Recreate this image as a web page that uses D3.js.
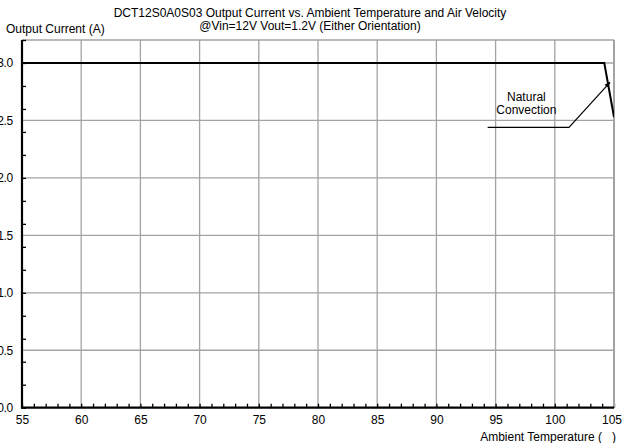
<!DOCTYPE html>
<html><head><meta charset="utf-8">
<script src="https://cdn.jsdelivr.net/npm/d3@7"></script>
<style>
html,body{margin:0;padding:0;background:#fff;}
text{font-family:"Liberation Sans",Arial,sans-serif;fill:#000;}
</style></head>
<body><svg id="chart" width="622" height="443"></svg>
<script>
// ---- data ----
const titleLines = ["DCT12S0A0S03 Output Current vs. Ambient Temperature and Air Velocity",
                    "@Vin=12V Vout=1.2V (Either Orientation)"];
const yAxisTitle = "Output Current (A)";
const xAxisTitle = "Ambient Temperature (   )";
const xTicks = [55, 60, 65, 70, 75, 80, 85, 90, 95, 100, 105];
const yTicks = [0.0, 0.5, 1.0, 1.5, 2.0, 2.5, 3.0];
const yTickLabels = ["0.0", "0.5", "1.0", "1.5", "2.0", "2.5", "3.0"];
const xMinorTicks = d3.range(55, 105.01, 1);
const yMinorTicks = d3.range(0, 3.21, 0.2);
const temps = [55, 104.18, 105];
const currents = [3.0, 3.0, 2.53];
const seriesName = ["Natural", "Convection"];
const labelX = [97.6, 97.6];
const labelY = [2.668, 2.555];
const calloutX = [94.33, 101.2, 104.66];
const calloutY = [2.44, 2.44, 2.832];

// ---- drawing ----
const svg = d3.select("#chart");
const L = 22, R = 614, T = 40, B = 407.7;
const x = d3.scaleLinear().domain([55, 105]).range([L, R]);
const y = d3.scaleLinear().domain([0, 3.2]).range([B, T]);
const grid = "#a3a3a3";
const FS = 12;

svg.append("defs").append("marker")
  .attr("id", "arr").attr("viewBox", "0 0 10 10").attr("refX", 9).attr("refY", 5)
  .attr("markerWidth", 5).attr("markerHeight", 5).attr("orient", "auto")
  .append("path").attr("d", "M0,1 L10,5 L0,9 z").attr("fill", "#000");

// gridlines
svg.append("g").selectAll("line").data(xTicks.slice(1)).join("line")
  .attr("x1", d => x(d)).attr("x2", d => x(d)).attr("y1", y(3.2)).attr("y2", y(0))
  .attr("stroke", grid).attr("stroke-width", 1.3);
svg.append("g").selectAll("line").data(yTicks.slice(1).concat([3.2])).join("line")
  .attr("x1", x(55)).attr("x2", x(105)).attr("y1", d => y(d)).attr("y2", d => y(d))
  .attr("stroke", grid).attr("stroke-width", 1.3);

// axes
const xAxis = d3.axisBottom(x).tickValues(xMinorTicks).tickSize(-4).tickFormat("");
const gx = svg.append("g").attr("transform", `translate(0,${B})`).call(xAxis);
gx.select(".domain").remove();
gx.selectAll(".tick line").attr("stroke", "#000").attr("stroke-width", 1.3);
const xLab = d3.axisBottom(x).tickValues(xTicks).tickSize(0).tickPadding(8).tickFormat(d3.format("d"));
const gxl = svg.append("g").attr("transform", `translate(0,${B})`).call(xLab);
gxl.select(".domain").remove();
gxl.selectAll("text").attr("font-size", FS).attr("font-family", "Liberation Sans, Arial, sans-serif")
  .attr("dx", d => d === 105 ? -2.5 : 0);

const yAxis = d3.axisLeft(y).tickValues(yMinorTicks).tickSize(-4).tickFormat("");
const gy = svg.append("g").attr("transform", `translate(${L},0)`).call(yAxis);
gy.select(".domain").remove();
gy.selectAll(".tick line").attr("stroke", "#000").attr("stroke-width", 1.3);
const yLab = d3.axisLeft(y).tickValues(yTicks).tickSize(0).tickPadding(9)
  .tickFormat((d, i) => yTickLabels[i]);
const gyl = svg.append("g").attr("transform", `translate(${L},0)`).call(yLab);
gyl.select(".domain").remove();
gyl.selectAll("text").attr("font-size", FS).attr("font-family", "Liberation Sans, Arial, sans-serif").attr("letter-spacing", -0.3);

// right border
svg.append("line").attr("x1", x(105)).attr("x2", x(105)).attr("y1", y(3.2)).attr("y2", y(0))
  .attr("stroke", grid).attr("stroke-width", 2);
// axis lines
svg.append("line").attr("x1", x(55)).attr("x2", x(55)).attr("y1", y(3.2)).attr("y2", y(0) + 1)
  .attr("stroke", "#000").attr("stroke-width", 2.2);
svg.append("line").attr("x1", x(55) - 1).attr("x2", x(105)).attr("y1", y(0)).attr("y2", y(0))
  .attr("stroke", "#000").attr("stroke-width", 2.2);

// data line
svg.append("clipPath").attr("id", "clip").append("rect")
  .attr("x", L).attr("y", T - 2).attr("width", R - L).attr("height", B - T + 2);
svg.append("path").datum(temps.map((t, i) => [t, currents[i]]))
  .attr("clip-path", "url(#clip)")
  .attr("d", d3.line().x(d => x(d[0])).y(d => y(d[1])))
  .attr("fill", "none").attr("stroke", "#000").attr("stroke-width", 2);

// callout
svg.append("path").datum(calloutX.map((v, i) => [v, calloutY[i]]))
  .attr("d", d3.line().x(d => x(d[0])).y(d => y(d[1])))
  .attr("fill", "none").attr("stroke", "#000").attr("stroke-width", 1.2)
  .attr("marker-end", "url(#arr)");
svg.append("g").selectAll("text").data(seriesName).join("text")
  .attr("x", (d, i) => x(labelX[i])).attr("y", (d, i) => y(labelY[i]))
  .attr("text-anchor", "middle").attr("font-size", FS)
  .text(d => d);

// titles
svg.append("g").selectAll("text").data(titleLines).join("text")
  .attr("x", 310).attr("y", (d, i) => 17 + i * 13)
  .attr("text-anchor", "middle").attr("font-size", FS)
  .text(d => d);
svg.append("text").attr("x", 6).attr("y", 33).attr("font-size", FS)
  .text(yAxisTitle);
svg.append("text").attr("x", R + 2).attr("y", 441).attr("text-anchor", "end")
  .attr("font-size", FS).style("white-space", "pre").text(xAxisTitle);
</script></body></html>
